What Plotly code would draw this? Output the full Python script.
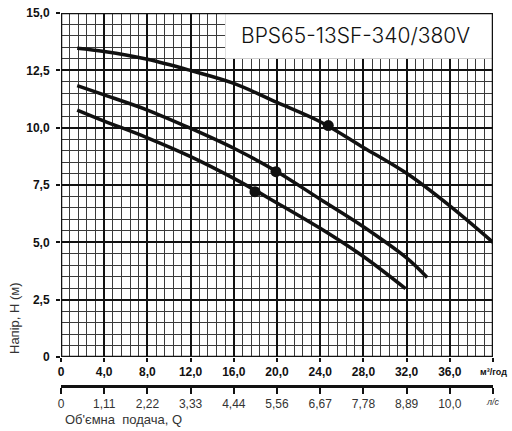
import plotly.graph_objects as go

# pump curves, Q in m3/h, H in m
q_top = [1.5, 4.0, 8.0, 12.0, 16.0, 20.0, 24.0, 28.0, 32.0, 36.0, 40.0]
h_top = [13.46, 13.32, 12.98, 12.49, 11.93, 11.10, 10.26, 9.14, 8.01, 6.59, 5.00]

q_mid = [1.5, 4.0, 8.0, 12.0, 16.0, 20.0, 24.0, 28.0, 32.0, 33.9]
h_mid = [11.83, 11.43, 10.77, 9.97, 9.10, 8.08, 6.88, 5.68, 4.32, 3.47]

q_low = [1.5, 4.0, 8.0, 12.0, 16.0, 20.0, 24.0, 28.0, 31.9]
h_low = [10.77, 10.29, 9.56, 8.74, 7.79, 6.72, 5.61, 4.38, 2.98]

# operating points
q_pts = [24.75, 19.9, 17.96]
h_pts = [10.09, 8.08, 7.21]

x_ticks = [0, 4, 8, 12, 16, 20, 24, 28, 32, 36, 40]
x_labels = ["0", "4,0", "8,0", "12,0", "16,0", "20,0", "24,0", "28,0", "32,0", "36,0", ""]
ls_ticks = [v / 3.6 for v in x_ticks]
ls_labels = ["0", "1,11", "2,22", "3,33", "4,44", "5,56", "6,67", "7,78", "8,89", "10,0", ""]
y_ticks = [0, 2.5, 5, 7.5, 10, 12.5, 15]
y_labels = ["0", "2,5", "5,0", "7,5", "10,0", "12,5", "15,0"]

title = "BPS65-13SF-340/380V"

fig = go.Figure()
for qq, hh in [(q_top, h_top), (q_mid, h_mid), (q_low, h_low)]:
    fig.add_trace(go.Scatter(x=qq, y=hh, mode="lines", line=dict(color="#111", width=3.5, shape="spline"),
                             showlegend=False, hoverinfo="skip"))
fig.add_trace(go.Scatter(x=q_pts, y=h_pts, mode="markers", marker=dict(color="#111", size=11),
                         showlegend=False, hoverinfo="skip"))
# invisible trace so the l/s axis is drawn
fig.add_trace(go.Scatter(x=[0, 40 / 3.6], y=[0, 0], xaxis="x2", yaxis="y", mode="lines",
                         line=dict(width=0), opacity=0, showlegend=False, hoverinfo="skip"))

tickfont = dict(family="Liberation Sans", size=12, color="#111", weight="bold")

fig.update_layout(
    width=512, height=431,
    margin=dict(l=61, r=19, t=13, b=0, autoexpand=False),
    paper_bgcolor="white", plot_bgcolor="white",
    xaxis=dict(range=[0, 40], tickmode="array", tickvals=x_ticks, ticktext=x_labels,
               showgrid=True, gridcolor="#111", gridwidth=2, zeroline=False, automargin=False,
               ticks="outside", ticklen=4, tickwidth=2, tickcolor="#111", tickfont=tickfont,
               ticklabeloverflow="allow",
               minor=dict(tickmode="linear", tick0=0, dtick=0.8, showgrid=True, gridcolor="#3a3a3a", gridwidth=1),
               showline=False),
    yaxis=dict(range=[0, 15], domain=[74 / 418, 1], tickmode="array", tickvals=y_ticks, ticktext=y_labels,
               showgrid=True, gridcolor="#111", gridwidth=2, zeroline=False, automargin=False,
               ticks="outside", ticklen=4, tickwidth=2, tickcolor="#111", tickfont=tickfont,
               ticklabelstandoff=4, ticklabeloverflow="allow",
               minor=dict(tickmode="linear", tick0=0, dtick=0.5, showgrid=True, gridcolor="#3a3a3a", gridwidth=1),
               showline=False),
    xaxis2=dict(range=[0, 40 / 3.6], overlaying="x", anchor="free", position=45 / 418, side="bottom",
                tickmode="array", tickvals=ls_ticks, ticktext=ls_labels, showgrid=False, zeroline=False,
                showline=True, linecolor="#111", linewidth=2.5, automargin=False,
                ticks="outside", ticklen=6, tickwidth=2, tickcolor="#111", ticklabeloverflow="allow",
                tickfont=dict(family="Liberation Sans", size=12, color="#333")),
    shapes=[
        dict(type="rect", xref="x", yref="y", x0=15.2, x1=40, y0=13, y1=15,
             fillcolor="white", line=dict(width=0), layer="above"),
        dict(type="rect", xref="x", yref="y", x0=0, x1=40, y0=0, y1=15,
             line=dict(color="#111", width=2.5), layer="above"),
    ],
    annotations=[
        dict(text=title, xref="x", yref="y", x=27.3, y=14.0, showarrow=False,
             xanchor="center", yanchor="middle",
             font=dict(family="Inter", size=21, color="#111", weight=300)),
        dict(text="м³/год", xref="x", yref="paper", x=40, y=(431 - 372) / 418, showarrow=False,
             xanchor="center", yanchor="middle",
             font=dict(family="Liberation Sans", size=9, color="#111", weight="bold")),
        dict(text="<i>л/с</i>", xref="x", yref="paper", x=40, y=(431 - 402) / 418, showarrow=False,
             xanchor="center", yanchor="middle",
             font=dict(family="Liberation Sans", size=9, color="#333")),
        dict(text="Об'ємна  подача, Q", xref="paper", yref="paper", x=2 / 432, y=(431 - 419) / 418,
             xanchor="left", yanchor="middle", showarrow=False,
             font=dict(family="Liberation Sans", size=13, color="#333")),
        dict(text="Напір, Н (м)", xref="paper", yref="paper", x=-47 / 432, y=(431 - 318) / 418,
             xanchor="center", yanchor="middle", textangle=-90, showarrow=False,
             font=dict(family="Liberation Sans", size=13, color="#333")),
    ],
)

# drop the default 8px page margin so the figure fills the window
fig.write_html("out.html", config={"displayModeBar": False},
               post_script="document.body.style.margin = '0';")
